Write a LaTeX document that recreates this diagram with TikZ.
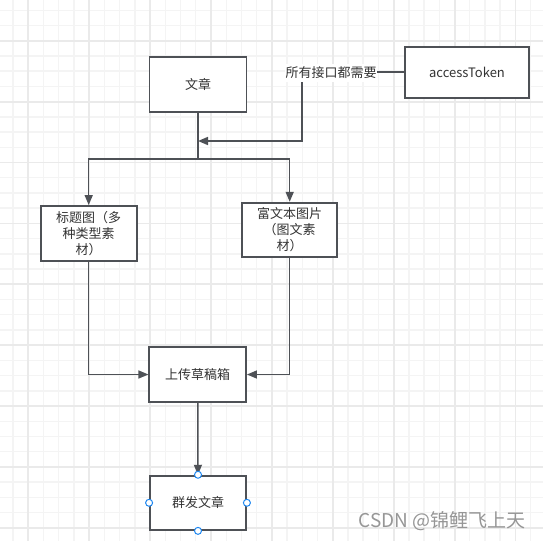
\documentclass[tikz,border=0pt]{standalone}
\usepackage{fontspec}
\newfontfamily\cjk{Noto Sans CJK SC}
\usetikzlibrary{arrows.meta}
\definecolor{edgecol}{RGB}{78,81,86}
\definecolor{textcol}{RGB}{51,51,51}
\definecolor{minorgrid}{RGB}{244,244,244}
\definecolor{majorgrid}{RGB}{234,234,234}
\definecolor{handlecol}{RGB}{30,135,240}
\begin{document}
\begin{tikzpicture}[x=1pt,y=-1pt]
   \tikzstyle{box}=[draw=edgecol, line width=1.8pt, fill=white, text=textcol,
     font=\cjk\fontsize{13}{16}\selectfont, align=center, inner sep=2pt]
   \tikzstyle{arr}=[draw=edgecol, line width=1.5pt, -{Triangle[length=10pt,width=8pt]}]
   \tikzstyle{wire}=[draw=edgecol, line width=1.5pt]
   \tikzstyle{handle}=[circle, draw=handlecol, fill=white, line width=1pt,
     minimum size=7pt, inner sep=0pt]
   \useasboundingbox[fill=white] (0,0) rectangle (543,541);
   \foreach \i in {0,...,36} {
     \draw[minorgrid, line width=1.4pt] ({-2.1+15.22*\i},0) -- ++(0,541);
     \draw[minorgrid, line width=1.4pt] (0,{10.3+15.22*\i}) -- ++(543,0);
   }
   \foreach \i in {0,...,8} {
     \draw[majorgrid, line width=1.8pt] ({28.3+60.9*\i},0) -- ++(0,541);
     \draw[majorgrid, line width=1.8pt] (0,{40.7+60.9*\i}) -- ++(543,0);
   }
   \node[box, minimum width=97pt, minimum height=54.5pt] (wz) at (198,84.5) {文章};
   \node[box, minimum width=124pt, minimum height=51pt] (token) at (467,72.2) {accessToken};
   \node[box, minimum width=96pt, minimum height=54.7pt] (title) at (88.7,233.3)
     {标题图（多\\种类型素\\材）};
   \node[box, minimum width=95.3pt, minimum height=54pt] (rich) at (289.7,229.7)
     {富文本图片\\（图文素\\材）};
   \node[box, minimum width=96.7pt, minimum height=54.4pt] (upload) at (197.7,374.5) {上传草稿箱};
   \node[box, minimum width=96pt, minimum height=54.3pt] (send) at (198,502.8) {群发文章};
   \coordinate (split) at (198,159);
   \coordinate (corner) at (302,141);
   \coordinate (merge) at (198,141);
   \draw[wire] (wz) -- (split);
   \draw[arr] (split) -| (title.north);
   \draw[arr] (split) -| (rich.north);
   \draw[arr] (token.west) -| (corner) -- (merge);
   \node[fill=white, text=textcol, font=\cjk\fontsize{13}{16}\selectfont,
     inner xsep=0.3pt, inner ysep=3pt] (need) at (331,73) {所有接口都需要};
   \draw[arr] (title.south) |- (upload.west);
   \draw[arr] (rich.south) |- (upload.east);
   \draw[arr] (upload) -- (send);
   \foreach \a in {north,south,east,west}
     \node[handle] (h-\a) at (send.\a) {};
   \node[text={rgb,255:red,150;green,150;blue,150}, font=\cjk\fontsize{19}{21}\selectfont,
     inner sep=0pt] (mark) at (442,521.5) {CSDN @锦鲤飞上天};
\end{tikzpicture}
\end{document}
